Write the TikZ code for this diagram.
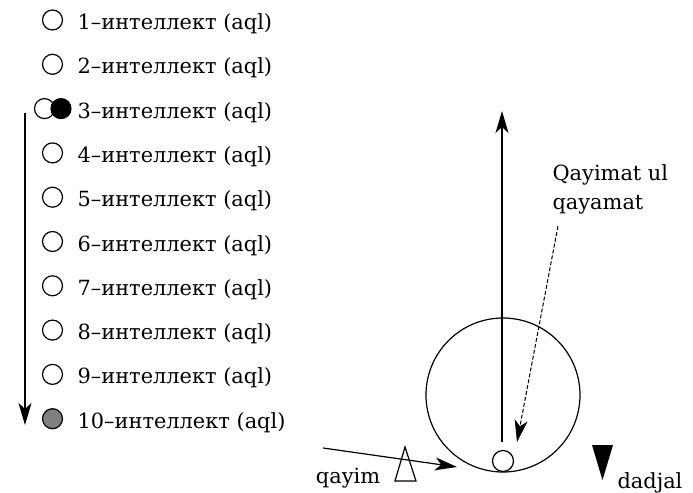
\documentclass[tikz,border=0pt]{standalone}
\usepackage{fontspec}
\setmainfont{DejaVu Serif}
\usetikzlibrary{arrows.meta}

\begin{document}
\begin{tikzpicture}[x=0.5pt,y=-0.5pt,line width=0.6pt,
  every node/.style={font=\fontsize{10.45pt}{14.5pt}\selectfont},
  dot/.style={circle,draw,inner sep=0pt,minimum size=10pt},
  lbl/.style={anchor=base west,inner sep=0pt},
  tip/.style={-{Stealth[length=11pt,width=6.5pt,inset=3pt]}}]
  \useasboundingbox (0,0) rectangle (693,493);
  % the ten levels
  \foreach \i in {1,...,10} {
    \pgfmathsetmacro\yy{20+44.3*(\i-1)}
    \node[lbl] (t\i) at (77,\yy+9.5) {\i–интеллект (aql)};
  }
  \foreach \i in {1,2,4,5,6,7,8,9} {
    \pgfmathsetmacro\yy{20+44.3*(\i-1)}
    \node[dot] (d\i) at (52.5,\yy) {};
  }
  \node[dot] (d3a) at (44.5,108.6) {};
  \node[dot,fill=black] (d3b) at (61,108.6) {};
  \node[dot,fill=gray] (d10) at (52.5,418.7) {};
  \coordinate (flowtop) at (25,113);
  \coordinate (flowend) at (25,425);
  \draw[tip] (flowtop) -- (flowend);
  % the world
  \node[circle,draw,inner sep=0pt,minimum size=77pt] (world) at (503,395) {};
  \node[dot,minimum size=10.5pt] (soul) at (503,461) {};
  \coordinate (axisbot) at (502,442);
  \coordinate (axistop) at (502,111);
  \draw[tip] (axisbot) -- (axistop);
  \node[anchor=north west,align=left,inner sep=0pt] (qm) at (552,164) {Qayimat ul\\qayamat};
  \coordinate (qmtail) at (558,226);
  \coordinate (qmtip) at (517,442);
  \draw[tip,line width=0.5pt,dash pattern=on 2pt off 1pt] (qmtail) -- (qmtip);
  \node[lbl,anchor=base] (qayim) at (348,483) {qayim};
  \coordinate (qtail) at (323,448);
  \coordinate (qtip) at (457,467);
  \draw[tip] (qtail) -- (qtip);
  \draw (405,447) -- (416,481) -- (395,481) -- cycle;
  \fill (592,445) -- (613,445) -- (602.5,480) -- cycle;
  \node[lbl,anchor=base] (dadjal) at (650,488) {dadjal};
\end{tikzpicture}
\end{document}
